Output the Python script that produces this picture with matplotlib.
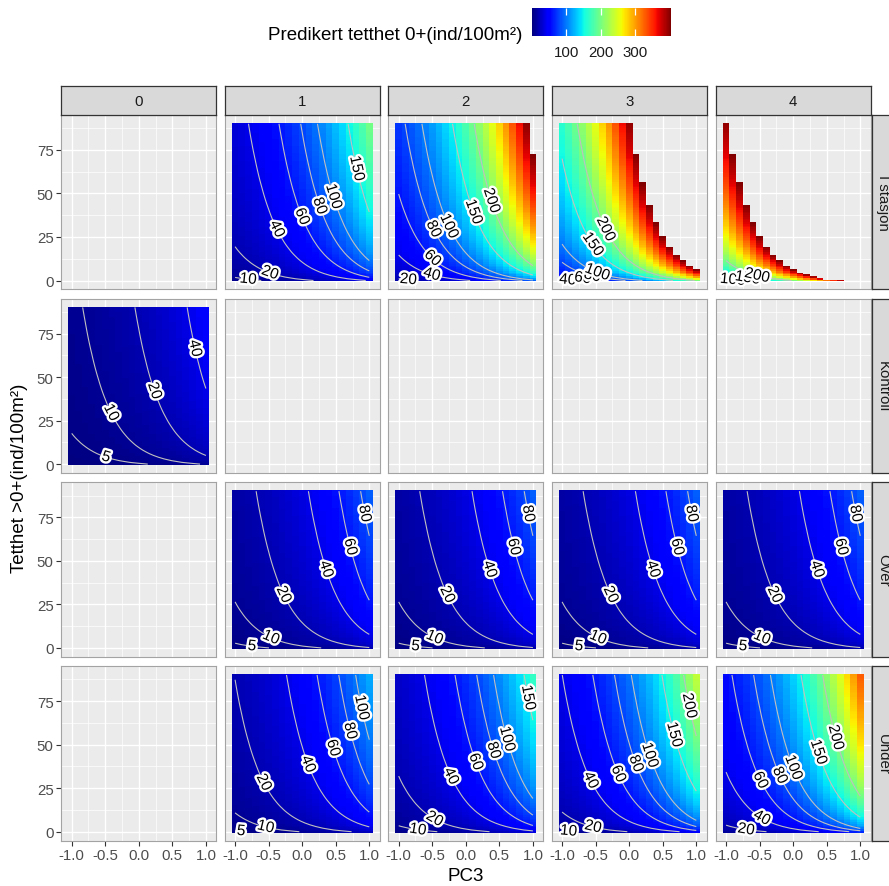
import numpy as np
import matplotlib
matplotlib.use('Agg')
import matplotlib.pyplot as plt
import matplotlib.patheffects as pe
from matplotlib.colors import Normalize
from matplotlib.cm import ScalarMappable

plt.rcParams['font.family'] = ['Liberation Sans', 'DejaVu Sans']

# facet levels
kolonner = ['0', '1', '2', '3', '4']
rader = ['I stasjon', 'Kontroll', 'Over', 'Under']

# model intercepts per facet column (None = no predictions for that cell)
a_istasjon = [None, 2.845, 3.63, 4.43, 5.32]
a_kontroll = [1.49, None, None, None, None]
a_over = [None, 2.05, 2.05, 2.05, 2.05]
a_under = [None, 2.34, 2.68, 3.02, 3.35]

# shared slopes: PC3 and log(tetthet >0+ + 1)
b_pc3 = 0.89
c_tetthet = 0.345
maks_pred = 405  # predictions above this are dropped (NA)

pc3 = np.round(np.arange(-1.0, 1.001, 0.1), 1)
tetthet = np.arange(0, 91)
konturer = [5, 10, 20, 40, 60, 80, 100, 150, 200]

intercepts = {'I stasjon': a_istasjon, 'Kontroll': a_kontroll,
              'Over': a_over, 'Under': a_under}

X, Y = np.meshgrid(pc3, tetthet)
pred = {}
for r in rader:
    for j, a in enumerate(intercepts[r]):
        if a is not None:
            pred[(r, j)] = np.exp(a + b_pc3 * X + c_tetthet * np.log(Y + 1))

alle = np.concatenate([p[p <= maks_pred] for p in pred.values()])
norm = Normalize(vmin=alle.min(), vmax=alle.max())
cmap = plt.get_cmap('jet')

base = 13.5
small = 10.8

W, H = 889, 887
fig = plt.figure(figsize=(W / 100, H / 100), dpi=100)


def fig_rect(left, top, width, height):
    return [left / W, 1 - (top + height) / H, width / W, height / H]


col_left = [61.3, 224.7, 388.3, 551.7, 715.7]
row_top = [116.0, 299.6, 483.4, 667.2]
pw, ph = 155.0, 174.3

x_edges = np.round(np.arange(-1.05, 1.06, 0.1), 2)
y_edges = np.arange(-0.5, 91, 1.0)


def label_contours(ax, cs):
    # put each label at the arc-length midpoint of its contour, along the line
    for lev, path in zip(cs.levels, cs.get_paths()):
        for seg in path.to_polygons(closed_only=False):
            if len(seg) < 2:
                continue
            disp = ax.transData.transform(seg)
            d = np.hypot(*np.diff(disp, axis=0).T)
            cum = np.concatenate([[0], np.cumsum(d)])
            if cum[-1] < 5:
                continue
            half = cum[-1] / 2
            i = min(np.searchsorted(cum, half), len(cum) - 1)
            i = max(i, 1)
            t = (half - cum[i - 1]) / max(d[i - 1], 1e-9)
            px = disp[i - 1] + t * (disp[i] - disp[i - 1])
            dx, dy = disp[i] - disp[i - 1]
            ang = np.degrees(np.arctan2(dy, dx))
            if ang > 90:
                ang -= 180
            elif ang < -90:
                ang += 180
            xd, yd = ax.transData.inverted().transform(px)
            ax.text(xd, yd, f'{lev:g}', rotation=ang, rotation_mode='anchor',
                    ha='center', va='center', fontsize=11, color='black',
                    zorder=6,
                    path_effects=[pe.withStroke(linewidth=3.5, foreground='white')])


def strip_axes(rect, label, rotation, tx=0.5):
    sax = fig.add_axes(rect)
    sax.set_facecolor('#D9D9D9')
    sax.set_xticks([])
    sax.set_yticks([])
    for s in sax.spines.values():
        s.set_color('#333333')
        s.set_linewidth(0.9)
    sax.text(tx, 0.5, label, ha='center', va='center', fontsize=small,
             rotation=rotation, color='#1A1A1A', transform=sax.transAxes)


for ri, r in enumerate(rader):
    for ci, k in enumerate(kolonner):
        ax = fig.add_axes(fig_rect(col_left[ci], row_top[ri], pw, ph))
        ax.set_facecolor('#EBEBEB')
        ax.set_xlim(-1.155, 1.155)
        ax.set_ylim(-5.05, 95.05)
        ax.set_xticks([-1.0, -0.5, 0.0, 0.5, 1.0])
        ax.set_xticks([-0.75, -0.25, 0.25, 0.75], minor=True)
        ax.set_yticks([0, 25, 50, 75])
        ax.set_yticks([12.5, 37.5, 62.5, 87.5], minor=True)
        ax.set_axisbelow(True)
        ax.grid(which='major', color='white', linewidth=1.0)
        ax.grid(which='minor', color='white', linewidth=0.5)
        ax.tick_params(which='minor', length=0)
        ax.tick_params(which='major', length=3.5, width=0.8, color='#333333',
                       labelcolor='#4D4D4D', labelsize=small, pad=2)
        for s in ax.spines.values():
            s.set_color('#A3A3A3')
            s.set_linewidth(0.8)
        if ri < len(rader) - 1:
            ax.tick_params(axis='x', which='major', length=0, labelbottom=False)
        else:
            ax.set_xticklabels(['-1.0', '-0.5', '0.0', '0.5', '1.0'])
        if ci > 0:
            ax.tick_params(axis='y', which='major', length=0, labelleft=False)

        if (r, ci) in pred:
            z = pred[(r, ci)]
            zm = np.ma.masked_where(z > maks_pred, z)
            ax.pcolormesh(x_edges, y_edges, zm, cmap=cmap, norm=norm,
                          shading='flat', zorder=1)
            cs = ax.contour(pc3, tetthet, z, levels=konturer,
                            colors='#C0C0C0', linewidths=0.8, zorder=3)
            label_contours(ax, cs)

        # column strip on top
        if ri == 0:
            strip_axes(fig_rect(col_left[ci], 87.3, pw, 28.7), k, 0)

    # row strip on the right (runs past the figure edge)
    strip_axes(fig_rect(871.7, row_top[ri], 28.7, ph), r, -90, tx=0.4)

# axis titles
fig.text(466 / W, 1 - 877 / H, 'PC3', ha='center', va='center', fontsize=base)
fig.text(20 / W, 1 - 478.5 / H, 'Tetthet >0+(ind/100m²)', ha='center',
         va='center', rotation=90, fontsize=base)

# colour legend
cax = fig.add_axes(fig_rect(532.3, 9.3, 138.7, 27.4))
cb = fig.colorbar(ScalarMappable(norm=norm, cmap=cmap), cax=cax,
                  orientation='horizontal', ticks=[100, 200, 300])
cb.outline.set_visible(False)
cax.xaxis.set_ticks_position('both')
cax.tick_params(axis='x', direction='in', length=5, width=0.9, color='white',
                labelcolor='#1A1A1A', labelsize=small, pad=7, labeltop=False,
                labelbottom=True)
fig.text(522 / W, 1 - 35 / H, 'Predikert tetthet 0+(ind/100m²)', ha='right',
         va='center', fontsize=base)

fig.savefig('out.png', dpi=100)
